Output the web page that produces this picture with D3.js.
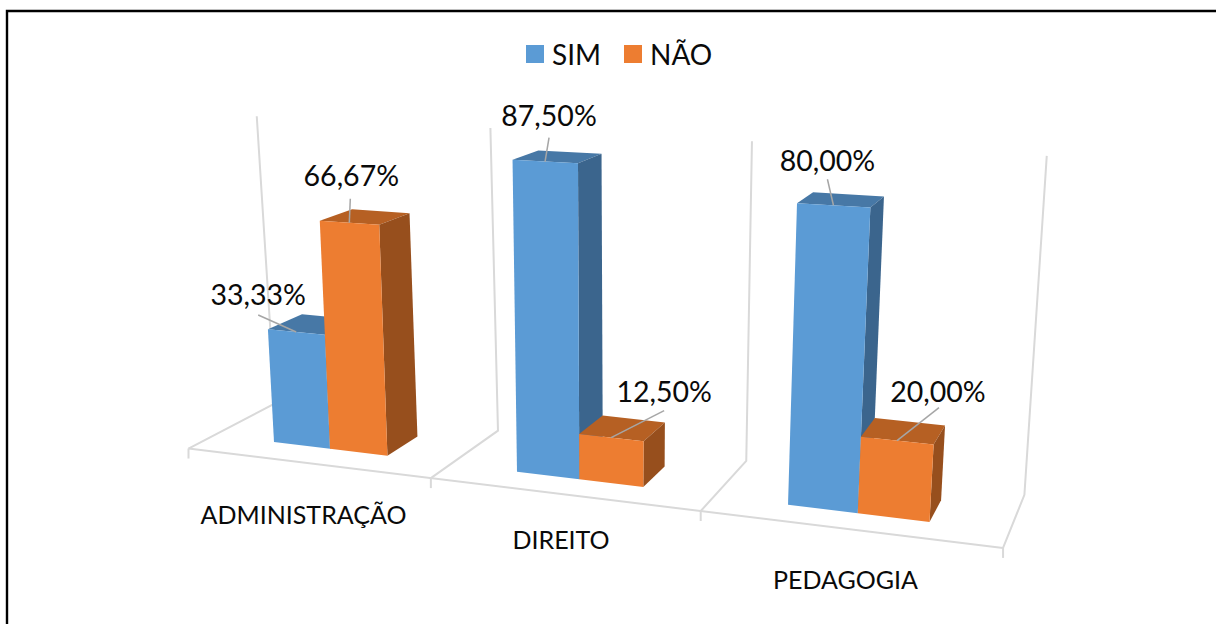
<!DOCTYPE html>
<html lang="pt">
<head>
<meta charset="utf-8">
<script src="https://cdn.jsdelivr.net/npm/d3@7/dist/d3.min.js"></script>
<style>
html,body{margin:0;padding:0;background:#fff;overflow:hidden}
svg{display:block}
text{font-family:Lato,"Open Sans",sans-serif;fill:#0a0a0a}
</style>
</head>
<body>
<svg id="chart" width="1216" height="624"></svg>
<script>
// ---- data ----
const categories = ["ADMINISTRAÇÃO", "DIREITO", "PEDAGOGIA"];
const seriesNames = ["SIM", "NÃO"];
const simValues = [33.33, 87.50, 80.00];
const naoValues = [66.67, 12.50, 20.00];
const valueLabels = [["33,33%", "66,67%"], ["87,50%", "12,50%"], ["80,00%", "20,00%"]];

// ---- styles ----
const faceColors = ["#5B9BD5", "#ED7D31"];
const topColors = ["#4778A6", "#B66023"];
const sideColors = ["#3B658D", "#974F1D"];
const gridColor = "#D9D9D9", leaderColor = "#A6A6A6";

// ---- layout: offsets of labels from their anchors (px) ----
const labelOffsets = [[[-38, -27], [2, -37]], [[4, -35.5], [53, -35.5]], [[-6, -34], [41, -39]]];
const leaderEnds = [[[-38, -17], [1, -24]], [[4, -24], [53, -27]], [[-6, -26], [42, -33]]];
const categoryLabelPos = [[-3, 52.5], [-1, 45.5], [-2, 51.5]];

// ---- scales ----
const svg = d3.select("#chart");
const band = d3.scaleBand().domain(d3.range(categories.length)).range([-0.26, 2.74]);
const barW = 0.24;
const barStart = d3.scaleBand().domain(d3.range(seriesNames.length)).range([0, 2 * barW]);
const valueScale = d3.scaleLinear().domain([0, 100]).range([0, 338]);
const depth = { floorFront: -0.025, barFront: 0, barBack: 0.034, wall: 0.057 };
const wallTopValue = 91.3;

// perspective floor position: u is the category-axis coordinate
const pc = -0.05166;
const perspective = u => 1 / (1 + pc * u);
const floorX = d3.scaleLinear().domain([0, 1]).range([274, 490.3]);
const slope = d3.scaleLinear().domain([274, 1274]).range([442, 564]);
const vanish = [1270, -115], vx0 = 605, vk = 0.000163;

function project(u, value, w) {
  const w0 = perspective(u);
  const bx = 274 + (floorX(u) - 274) * w0 + 274 * (w0 - 1);
  const by = slope(bx);
  const h = valueScale(value) * w0;
  const tx = bx + (bx - vx0) * vk * h;
  const ty = by - h;
  return [tx + w * (vanish[0] - tx), ty + w * (vanish[1] - ty)];
}

const poly = pts => "M" + pts.map(p => p.join(",")).join("L") + "Z";
const line = d3.line();

// ---- frame ----
svg.append("path").attr("d", "M7,624V11H1216").attr("fill", "none").attr("stroke", "#000").attr("stroke-width", 2.4);

// ---- walls and floor ----
const grid = svg.append("g").attr("fill", "none").attr("stroke", gridColor).attr("stroke-width", 2);
const edges = d3.range(categories.length + 1).map(i => band.range()[0] + i * band.bandwidth());
grid.append("path").attr("d", line([project(edges[0], 0, depth.floorFront), project(edges[3], 0, depth.floorFront)]));
edges.forEach(u => {
  const f = project(u, 0, depth.floorFront), b = project(u, 0, depth.wall), t = project(u, wallTopValue, depth.wall);
  grid.append("path").attr("d", line([f, b, t]));
  grid.append("path").attr("d", line([f, [f[0], f[1] + 10]]));
});

// ---- bars ----
const allValues = [simValues, naoValues];
const barsG = svg.append("g");
const overlay = svg.append("g");
categories.forEach((cat, i) => {
  const u0 = band(i) + (band.bandwidth() - 2 * barW) / 2;
  seriesNames.forEach((s, j) => {
    const v = allValues[j][i];
    const a = u0 + barStart(j), b = a + barW;
    const g = barsG.append("g");
    g.append("path").attr("fill", topColors[j]).attr("d", poly([
      project(a, v, 0), project(b, v, 0), project(b, v, depth.barBack), project(a, v, depth.barBack)]));
    g.append("path").attr("fill", sideColors[j]).attr("d", poly([
      project(b, 0, 0), project(b, v, 0), project(b, v, depth.barBack), project(b, 0, depth.barBack)]));
    g.append("path").attr("fill", faceColors[j]).attr("d", poly([
      project(a, 0, 0), project(b, 0, 0), project(b, v, 0), project(a, v, 0)]));

    const anchor = project(a + barW / 2, v, 0);
    const le = leaderEnds[i][j], lo = labelOffsets[i][j];
    overlay.append("path").attr("fill", "none").attr("stroke", leaderColor).attr("stroke-width", 1.5)
      .attr("d", line([anchor, [anchor[0] + le[0], anchor[1] + le[1]]]));
    overlay.append("text").attr("x", anchor[0] + lo[0]).attr("y", anchor[1] + lo[1])
      .attr("text-anchor", "middle").attr("font-size", 28.5).text(valueLabels[i][j]);
  });
  // category label
  const c = project(band(i) + band.bandwidth() / 2, 0, depth.floorFront);
  svg.append("text").attr("x", c[0] + categoryLabelPos[i][0]).attr("y", c[1] + categoryLabelPos[i][1] + 9)
    .attr("text-anchor", "middle").attr("font-size", 25).text(cat);
});

// ---- legend ----
const legendX = d3.scalePoint().domain(seriesNames).range([526, 624]);
seriesNames.forEach((s, j) => {
  svg.append("rect").attr("x", legendX(s)).attr("y", 45).attr("width", 18).attr("height", 18).attr("fill", faceColors[j]);
  svg.append("text").attr("x", legendX(s) + 26).attr("y", 65).attr("font-size", 28).text(s);
});
</script>
</body>
</html>
